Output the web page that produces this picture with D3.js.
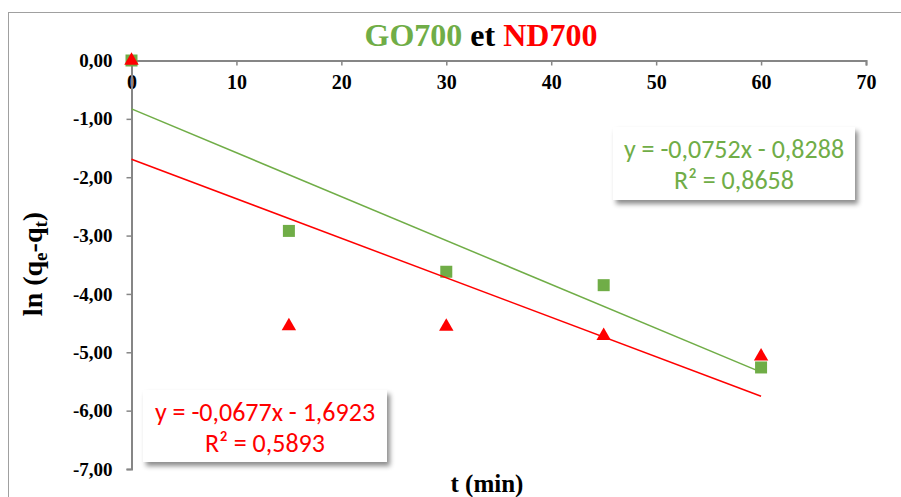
<!DOCTYPE html>
<html>
<head>
<meta charset="utf-8">
<script src="https://cdn.jsdelivr.net/npm/d3@7"></script>
<style>
  html, body { margin: 0; padding: 0; background: #fff; }
  svg { display: block; }
</style>
</head>
<body>
<svg id="chart" width="901" height="497"></svg>
<script>
// Sampling times (min)
const times = [0, 15, 30, 45, 60];
// ln(qe - qt) for each material
const go700 = [0, -2.92, -3.62, -3.85, -5.26];
const nd700 = [0, -4.55, -4.56, -4.72, -5.07];
// Linear fits (slope, intercept, R²)
const goFit = { slope: -0.0752, intercept: -0.8288, r2: "0,8658", text: "y = -0,0752x - 0,8288" };
const ndFit = { slope: -0.0677, intercept: -1.6923, r2: "0,5893", text: "y = -0,0677x - 1,6923" };
// Axis ticks
const xTicks = [0, 10, 20, 30, 40, 50, 60, 70];
const yTicks = [0, -1, -2, -3, -4, -5, -6, -7];

const GREEN = "#70AD47";
const RED = "#FF0000";
const AXIS = "#868686";
const SERIF = "'Times New Roman', 'Liberation Serif', serif";
const SANS = "Carlito, Calibri, Lato, 'Open Sans', sans-serif";

const svg = d3.select("#chart");

// Drop shadow for the equation boxes
const defs = svg.append("defs");
const f = defs.append("filter").attr("id", "shadow")
  .attr("x", "-10%").attr("y", "-10%").attr("width", "130%").attr("height", "140%");
f.append("feDropShadow").attr("dx", 3).attr("dy", 4).attr("stdDeviation", 2.5)
  .attr("flood-color", "#000").attr("flood-opacity", 0.45);

// Chart frame
svg.append("rect")
  .attr("x", 8.5).attr("y", 12.5).attr("width", 900).attr("height", 500)
  .attr("fill", "#fff").attr("stroke", "#a0a0a0").attr("stroke-width", 1);

const x = d3.scaleLinear().domain([0, 70]).range([131.5, 866]);
const y = d3.scaleLinear().domain([0, -7]).range([60.5, 469]);

// X axis sits on y = 0 at the top
const xAxis = svg.append("g")
  .attr("transform", `translate(0,${y(0)})`)
  .call(d3.axisBottom(x).tickValues(xTicks).tickSize(5).tickPadding(9).tickFormat(d3.format("d")));
xAxis.select(".domain").attr("stroke", AXIS).attr("stroke-width", 2);
xAxis.selectAll(".tick line").attr("stroke", AXIS).attr("stroke-width", 1.5);
xAxis.selectAll(".tick text")
  .attr("font-family", SERIF).attr("font-weight", "bold").attr("font-size", 20).attr("fill", "#000");

// Y axis
const yFmt = v => d3.format(".2f")(v).replace(".", ",").replace("−", "-");
const yAxis = svg.append("g")
  .attr("transform", `translate(${x(0)},0)`)
  .call(d3.axisLeft(y).tickValues(yTicks).tickSize(5).tickPadding(14).tickFormat(yFmt));
yAxis.select(".domain").attr("stroke", AXIS).attr("stroke-width", 2);
yAxis.selectAll(".tick line").attr("stroke", AXIS).attr("stroke-width", 1.5);
yAxis.selectAll(".tick text")
  .attr("font-family", SERIF).attr("font-weight", "bold").attr("font-size", 19).attr("fill", "#000");

// Markers
const goPts = times.map((t, i) => ({ t, v: go700[i] }));
const ndPts = times.map((t, i) => ({ t, v: nd700[i] }));

svg.append("g").selectAll("rect").data(goPts).join("rect")
  .attr("x", d => x(d.t) - 6).attr("y", d => y(d.v) - 6)
  .attr("width", 12).attr("height", 12).attr("fill", GREEN);

const tri = d3.symbol().type(d3.symbolTriangle).size(90);
svg.append("g").selectAll("path").data(ndPts).join("path")
  .attr("transform", d => `translate(${x(d.t)},${y(d.v)})`)
  .attr("d", tri).attr("fill", RED);

// Trend lines over t = 0..60
const line = d3.line().x(d => x(d[0])).y(d => y(d[1]));
[[goFit, GREEN], [ndFit, RED]].forEach(([fit, col]) => {
  const pts = [0, 60].map(t => [t, fit.slope * t + fit.intercept]);
  svg.append("path").attr("d", line(pts)).attr("fill", "none")
    .attr("stroke", col).attr("stroke-width", 1.5);
});

// Equation boxes
function eqBox(fit, col, bx, by, bw, bh) {
  const g = svg.append("g");
  g.append("rect").attr("x", bx).attr("y", by).attr("width", bw).attr("height", bh)
    .attr("fill", "#fff").attr("filter", "url(#shadow)");
  const cx = bx + bw / 2;
  g.append("text").attr("x", cx).attr("y", by + 31).attr("text-anchor", "middle")
    .attr("font-family", SANS).attr("font-size", 26).attr("fill", col).text(fit.text);
  g.append("text").attr("x", cx).attr("y", by + 62).attr("text-anchor", "middle")
    .attr("font-family", SANS).attr("font-size", 26).attr("fill", col).text("R² = " + fit.r2);
}
eqBox(goFit, GREEN, 613, 127, 242, 73);
eqBox(ndFit, RED, 143, 390, 244, 72);

// Title
const title = svg.append("text").attr("x", 481).attr("y", 46).attr("text-anchor", "middle")
  .attr("font-family", SERIF).attr("font-weight", "bold").attr("font-size", 32);
title.append("tspan").attr("fill", GREEN).text("GO700");
title.append("tspan").attr("fill", "#000").text(" et ");
title.append("tspan").attr("fill", RED).text("ND700");

// Axis titles
svg.append("text").attr("x", 487).attr("y", 492).attr("text-anchor", "middle")
  .attr("font-family", SERIF).attr("font-weight", "bold").attr("font-size", 25).attr("fill", "#000")
  .text("t (min)");

const yt = svg.append("text")
  .attr("transform", "translate(42,264) rotate(-90)")
  .attr("text-anchor", "middle")
  .attr("font-family", SERIF).attr("font-weight", "bold").attr("font-size", 28).attr("fill", "#000");
yt.append("tspan").text("ln (q");
yt.append("tspan").attr("font-size", 19).attr("dy", 5).text("e");
yt.append("tspan").attr("dy", -5).text("-q");
yt.append("tspan").attr("font-size", 19).attr("dy", 5).text("t");
yt.append("tspan").attr("dy", -5).text(")");
</script>
</body>
</html>
